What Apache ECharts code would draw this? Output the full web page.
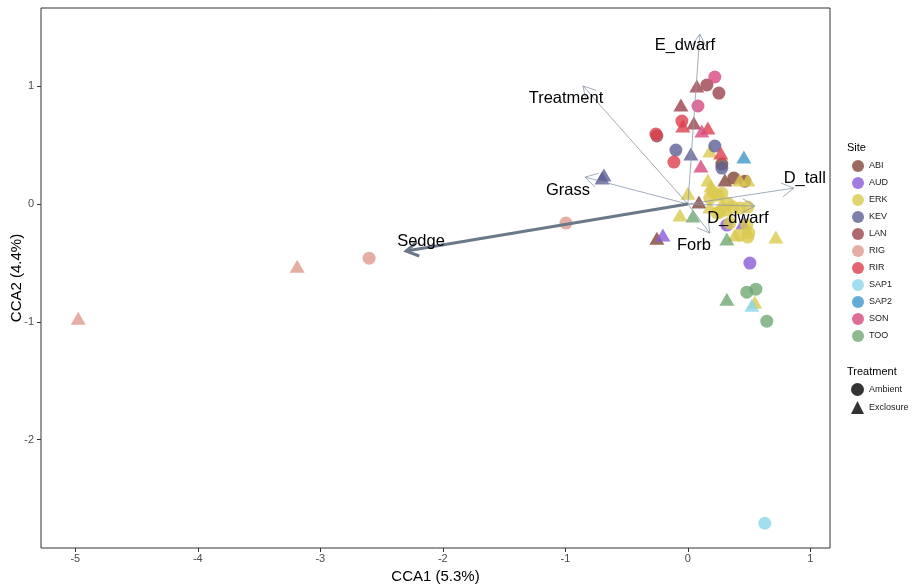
<!DOCTYPE html>
<html>
<head>
<meta charset="utf-8">
<script src="https://cdn.jsdelivr.net/npm/echarts@6/dist/echarts.min.js"></script>
<style>
  html, body { margin: 0; padding: 0; background: #fff; }
  #chart { width: 913px; height: 584px; }
</style>
</head>
<body>
<div id="chart"></div>
<script>
// site scores per site: [CCA1, CCA2, treatment]  A = Ambient, E = Exclosure
var ABI = [[0.277, 0.340, 'A'], [0.375, 0.221, 'A'], [0.465, 0.195, 'A'],
           [0.302, 0.204, 'E'], [0.090, 0.017, 'E'], [-0.253, -0.289, 'E']];
var AUD = [[0.506, -0.501, 'A'], [0.318, -0.178, 'A'],
           [-0.204, -0.263, 'E'], [0.449, -0.161, 'E']];
var ERK = [[0.204, 0.102, 'A'], [0.245, 0.076, 'A'], [0.277, 0.093, 'A'], [0.179, 0.051, 'A'],
           [0.326, 0.008, 'A'], [0.367, -0.025, 'A'], [0.424, -0.034, 'A'], [0.489, -0.025, 'A'],
           [0.237, -0.076, 'A'], [0.261, -0.068, 'A'], [0.343, -0.161, 'A'], [0.481, -0.178, 'A'],
           [0.498, -0.246, 'A'], [0.424, -0.263, 'A'], [0.489, -0.280, 'A'],
           [0.163, 0.204, 'E'], [0.424, 0.204, 'E'], [0.489, 0.204, 'E'], [0.179, 0.450, 'E'],
           [0.000, 0.093, 'E'], [-0.065, -0.093, 'E'], [0.277, 0.000, 'E'], [0.179, -0.025, 'E'],
           [0.383, -0.263, 'E'], [0.718, -0.280, 'E'], [0.546, -0.833, 'E'], [0.188, 0.153, 'E'],
           [0.318, -0.051, 'E']];
var KEV = [[-0.098, 0.459, 'A'], [0.220, 0.493, 'A'], [0.277, 0.306, 'A'],
           [0.024, 0.425, 'E'], [-0.685, 0.246, 'E'], [-0.701, 0.221, 'E']];
var LAN = [[0.155, 1.011, 'A'], [0.253, 0.943, 'A'], [-0.253, 0.578, 'A'],
           [0.073, 1.003, 'E'], [-0.057, 0.841, 'E'], [0.049, 0.688, 'E']];
var RIG = [[-0.995, -0.161, 'A'], [-2.602, -0.459, 'A'],
           [-3.189, -0.527, 'E'], [-4.976, -0.969, 'E']];
var RIR = [[-0.049, 0.705, 'A'], [-0.261, 0.595, 'A'], [-0.114, 0.357, 'A'],
           [-0.041, 0.663, 'E'], [0.163, 0.646, 'E'], [0.269, 0.433, 'E']];
var SAP1 = [[0.628, -2.710, 'A'], [0.522, -0.858, 'E']];
var SAP2 = [[0.457, 0.399, 'E']];
var SON = [[0.220, 1.079, 'A'], [0.082, 0.833, 'A'],
           [0.114, 0.620, 'E'], [0.106, 0.323, 'E']];
var TOO = [[0.481, -0.748, 'A'], [0.555, -0.722, 'A'], [0.644, -0.994, 'A'],
           [0.041, -0.102, 'E'], [0.318, -0.297, 'E'], [0.318, -0.807, 'E']];

var siteNames = ['ABI', 'AUD', 'ERK', 'KEV', 'LAN', 'RIG', 'RIR', 'SAP1', 'SAP2', 'SON', 'TOO'];
var siteData = [ABI, AUD, ERK, KEV, LAN, RIG, RIR, SAP1, SAP2, SON, TOO];
var treatmentNames = ['Ambient', 'Exclosure'];

// fitted vectors (arrow tips) and where their labels sit
var vecNames = ['E_dwarf', 'Treatment', 'Grass', 'Sedge', 'Forb', 'D_dwarf', 'D_tall'];
var vecX = [0.098, -0.856, -0.840, -2.300, 0.179, 0.546, 0.865];
var vecY = [1.444, 1.003, 0.229, -0.399, -0.246, -0.017, 0.136];
var labX = [-0.024, -0.995, -0.979, -2.178, 0.049, 0.408, 0.954];
var labY = [1.351, 0.901, 0.119, -0.314, -0.348, -0.119, 0.221];

var xTicks = [-5, -4, -3, -2, -1, 0, 1];
var yTicks = [-2, -1, 0, 1];

var siteColors = ['#834637', '#8B5AD8', '#DBC94F', '#5E5F95', '#9C424C', '#DF9A8D',
                  '#DD3D4B', '#8BD6EA', '#3D97CB', '#D64A7E', '#71A873'];

var chart = echarts.init(document.getElementById('chart'));

var series = siteNames.map(function (name, i) {
  return {
    name: name,
    type: 'scatter',
    z: 2,
    itemStyle: { color: siteColors[i], opacity: 0.8 },
    data: siteData[i].map(function (p) {
      var tri = p[2] === 'E';
      return {
        value: [p[0], p[1]],
        symbol: tri ? 'triangle' : 'circle',
        symbolSize: tri ? [15, 13] : 13
      };
    })
  };
});

// empty series only to feed the Treatment legend
series.push({ name: 'Ambient', type: 'scatter', symbol: 'circle', itemStyle: { color: '#000', opacity: 0.8 }, data: [] });
series.push({ name: 'Exclosure', type: 'scatter', symbol: 'triangle', itemStyle: { color: '#000', opacity: 0.8 }, data: [] });

series.push({
  type: 'custom',
  z: 5,
  silent: true,
  data: vecX.map(function (x, i) { return [x, vecY[i], labX[i], labY[i], i]; }),
  encode: { x: 0, y: 1 },
  renderItem: function (params, api) {
    var i = api.value(4);
    var o = api.coord([0, 0]);
    var t = api.coord([api.value(0), api.value(1)]);
    var lab = api.coord([api.value(2), api.value(3)]);
    var thick = vecNames[i] === 'Sedge';
    var stroke = thick ? '#6b7889' : '#8c97aa';
    var lw = thick ? 3 : 0.8;
    var ang = Math.atan2(t[1] - o[1], t[0] - o[0]);
    var len = 14, spread = Math.PI / 6;
    var a1 = [t[0] - len * Math.cos(ang - spread), t[1] - len * Math.sin(ang - spread)];
    var a2 = [t[0] - len * Math.cos(ang + spread), t[1] - len * Math.sin(ang + spread)];
    return {
      type: 'group',
      children: [
        { type: 'line', shape: { x1: o[0], y1: o[1], x2: t[0], y2: t[1] },
          style: { stroke: stroke, lineWidth: lw } },
        { type: 'polyline', shape: { points: [a1, t, a2] },
          style: { stroke: stroke, lineWidth: lw, fill: null } },
        { type: 'text', x: lab[0], y: lab[1], z2: 10,
          style: { text: vecNames[i], fill: '#000', font: '16.5px "Liberation Sans", Arial',
                   align: 'center', verticalAlign: 'middle' } }
      ]
    };
  }
});

var option = {
  animation: false,
  backgroundColor: '#fff',
  grid: { left: 41, right: 83, top: 8, bottom: 36, outerBoundsMode: 'none', containLabel: false,
          show: true, borderColor: '#333', borderWidth: 1, backgroundColor: '#fff' },
  xAxis: {
    type: 'value', min: -5.28, max: 1.16,
    name: 'CCA1 (5.3%)', nameLocation: 'middle', nameGap: 19,
    nameTextStyle: { color: '#000', fontSize: 15, fontFamily: 'Liberation Sans' },
    axisLine: { show: false, onZero: false },
    splitLine: { show: false },
    axisTick: { show: true, length: 4, lineStyle: { color: '#333' }, customValues: xTicks },
    axisLabel: { color: '#4d4d4d', fontSize: 11, fontFamily: 'Liberation Sans', margin: 5, customValues: xTicks }
  },
  yAxis: {
    type: 'value', min: -2.92, max: 1.665,
    name: 'CCA2 (4.4%)', nameLocation: 'middle', nameGap: 17, nameMoveOverlap: false,
    nameTextStyle: { color: '#000', fontSize: 15, fontFamily: 'Liberation Sans' },
    axisLine: { show: false, onZero: false },
    splitLine: { show: false },
    axisTick: { show: true, length: 4, lineStyle: { color: '#333' }, customValues: yTicks },
    axisLabel: { color: '#4d4d4d', fontSize: 11, fontFamily: 'Liberation Sans', margin: 7, customValues: yTicks }
  },
  legend: [
    {
      data: siteNames.map(function (n) { return { name: n, icon: 'circle' }; }),
      orient: 'vertical', left: 852, top: 160, padding: 0,
      itemWidth: 12, itemHeight: 12, itemGap: 5, selectedMode: false,
      itemStyle: { opacity: 0.8 },
      textStyle: { fontSize: 9, color: '#1a1a1a', fontFamily: 'Liberation Sans' }
    },
    {
      data: [{ name: 'Ambient', icon: 'circle' }, { name: 'Exclosure', icon: 'triangle' }],
      orient: 'vertical', left: 851, top: 383, padding: 0,
      itemWidth: 13, itemHeight: 13, itemGap: 5, selectedMode: false,
      itemStyle: { opacity: 0.8 },
      textStyle: { fontSize: 9, color: '#1a1a1a', fontFamily: 'Liberation Sans' }
    }
  ],
  graphic: [
    { type: 'text', left: 847, top: 142, style: { text: 'Site', fill: '#000', font: '11px "Liberation Sans"' } },
    { type: 'text', left: 847, top: 366, style: { text: 'Treatment', fill: '#000', font: '11px "Liberation Sans"' } }
  ],
  series: series
};

chart.setOption(option);
window.addEventListener('resize', function () { chart.resize(); });
</script>
</body>
</html>
